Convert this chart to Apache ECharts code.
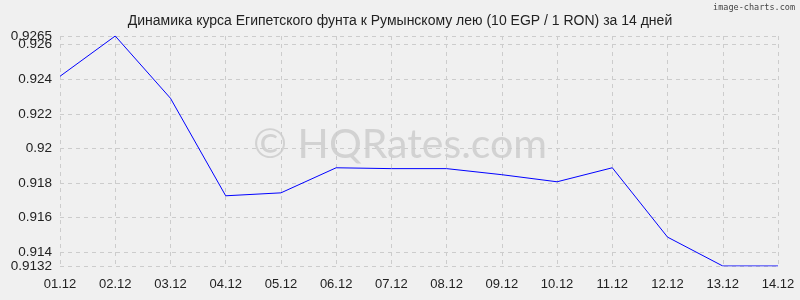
<!DOCTYPE html>
<html><head><meta charset="utf-8">
<script src="https://cdn.jsdelivr.net/npm/echarts@6/dist/echarts.min.js"></script>
<style>html,body{margin:0;padding:0;background:#f0f0f0}#c{width:800px;height:300px}</style>
</head><body><div id="c"></div>
<script>
var categories = ["01.12","02.12","03.12","04.12","05.12","06.12","07.12","08.12","09.12","10.12","11.12","12.12","13.12","14.12"];
var values = [0.92417,0.9265,0.9229,0.91726,0.91743,0.91888,0.91883,0.91883,0.91848,0.91807,0.91888,0.91487,0.9132,0.9132];
var yTicks = [0.9132,0.914,0.916,0.918,0.92,0.922,0.924,0.926];
var yTopTick = [0.9265];
var yMin = 0.9132, yMax = 0.9265;
var labelStyle = {fontFamily:'Liberation Sans, Arial',fontSize:13.5,color:'#222',margin:8,hideOverlap:false,
  formatter:function(v){return String(+v.toFixed(4));}};
var chart = echarts.init(document.getElementById('c'));
chart.setOption({
  backgroundColor:'#f0f0f0',
  animation:false,
  title:{text:'Динамика курса Египетского фунта к Румынскому лею (10 EGP / 1 RON) за 14 дней',left:'center',top:9,
    textStyle:{fontFamily:'Liberation Sans, Arial',fontSize:14,fontWeight:'normal',color:'#222'}},
  graphic:[
    {type:'text',right:5,top:3,style:{text:'image-charts.com',font:'8.5px DejaVu Sans Mono',fill:'#444'}},
    {type:'text',left:253,top:124,z:0,style:{text:'© HQRates.com',font:'41px Lato, "Open Sans", sans-serif',fill:'rgba(165,165,165,0.4)'}}
  ],
  grid:{left:60,right:22,top:36,bottom:34},
  xAxis:{type:'category',data:categories,boundaryGap:false,
    axisLine:{show:false},axisTick:{show:false},
    axisLabel:{fontFamily:'Liberation Sans, Arial',fontSize:13,color:'#222',margin:12,showMaxLabel:true,showMinLabel:true,interval:0},
    splitLine:{show:true,lineStyle:{color:'#cccccc',type:[4,4]}}},
  yAxis:[
    {type:'value',min:yMin,max:yMax,position:'left',
      axisLine:{show:false},
      axisTick:{show:false,customValues:yTicks},
      axisLabel:Object.assign({customValues:yTicks,showMaxLabel:true,showMinLabel:true},labelStyle),
      splitLine:{show:true,lineStyle:{color:'#cccccc',type:[4,4]}}},
    {type:'value',min:yMin,max:yMax,position:'left',
      axisLine:{show:false},
      axisTick:{show:false,customValues:yTopTick},
      axisLabel:Object.assign({customValues:yTopTick,showMaxLabel:true,showMinLabel:true},labelStyle),
      splitLine:{show:true,lineStyle:{color:'#cccccc',type:[4,4]}}}
  ],
  series:[{type:'line',data:values,yAxisIndex:0,symbol:'none',lineStyle:{color:'#0000ff',width:1},z:3}]
});
</script></body></html>
